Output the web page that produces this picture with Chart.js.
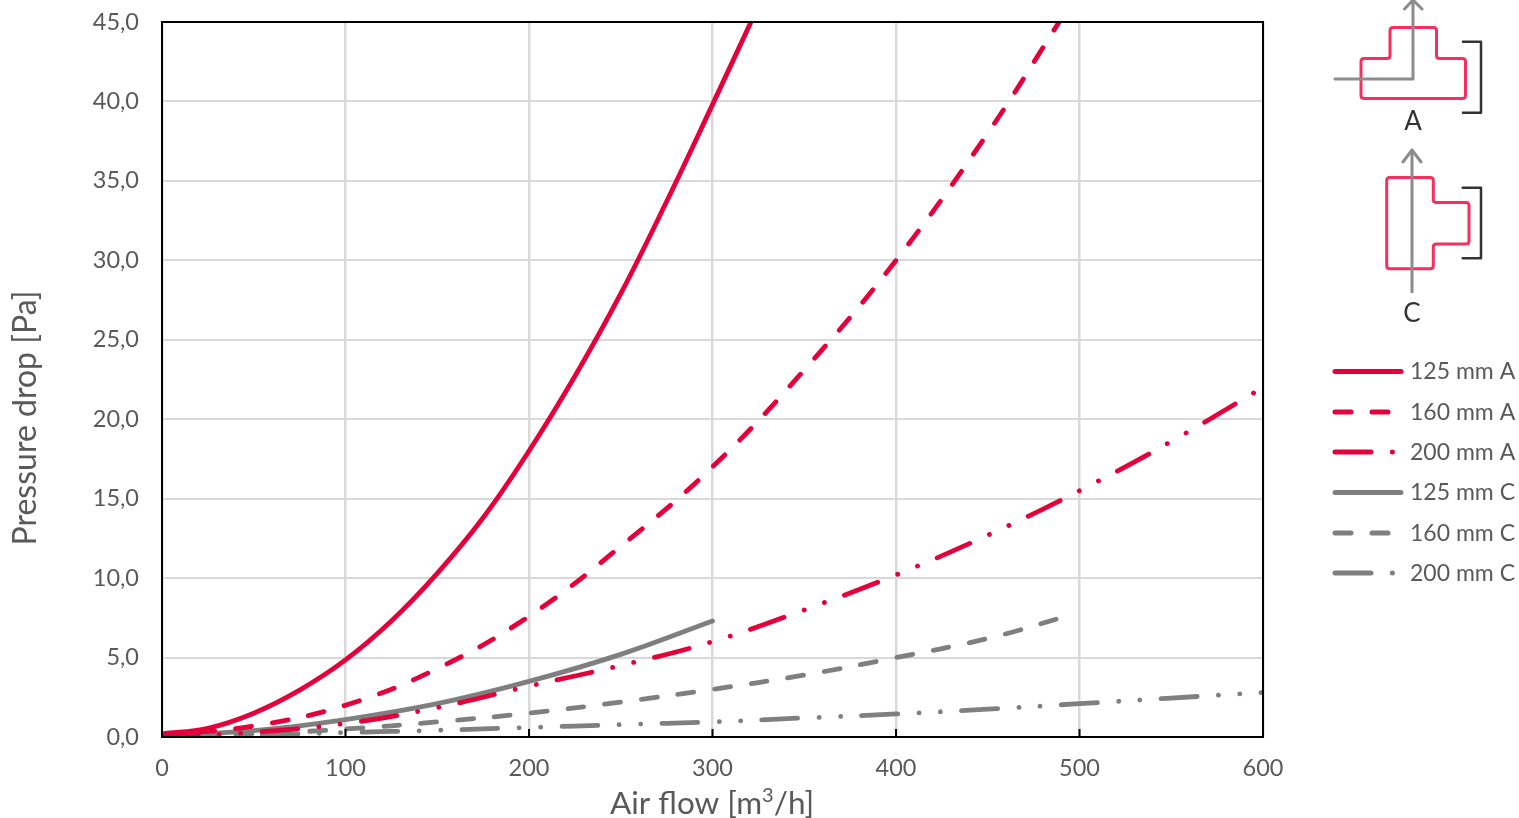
<!DOCTYPE html>
<html>
<head>
<meta charset="utf-8">
<title>Pressure drop</title>
<script src="https://cdn.jsdelivr.net/npm/chart.js@4"></script>
<style>
  html, body { margin: 0; padding: 0; background: #fff; overflow: hidden; }
  #wrap { position: relative; width: 1519px; height: 818px; }
  #chart { position: absolute; left: 0; top: 0; }
  #icons { position: absolute; left: 0; top: 0; pointer-events: none; }
</style>
</head>
<body>
<div id="wrap">
  <canvas id="chart" width="1519" height="818"></canvas>
  <svg id="icons" width="1519" height="818" fill="none" stroke-linejoin="round" stroke-linecap="round">
    <path id="ductA" stroke="#f5305f" stroke-width="3"/>
    <path d="M1335 79H1413V0M1404.5 9L1413 0L1422 9" stroke="#8c8c8c" stroke-width="3"/>
    <path d="M1463 41.7H1481V112.7H1463" stroke="#333" stroke-width="2.5"/>
    <text x="1413" y="130" text-anchor="middle" font-family="Lato" font-size="26" fill="#333">A</text>
    <path id="ductC" stroke="#f5305f" stroke-width="3"/>
    <path d="M1412 291.7V150M1403 162L1412 150L1421 162" stroke="#8c8c8c" stroke-width="3"/>
    <path d="M1462.7 187.7H1481V258.3H1462.7" stroke="#333" stroke-width="2.5"/>
    <text x="1412" y="322" text-anchor="middle" font-family="Lato" font-size="26" fill="#333">C</text>
  </svg>
</div>
<script>
// Значения
const flowA125 = [0, 25, 50, 75, 100, 125, 150, 175, 200, 225, 250, 275, 300, 325];
const dropA125 = [0.2, 0.55, 1.5, 2.95, 4.85, 7.3, 10.3, 13.8, 18, 22.7, 27.9, 33.7, 39.8, 46];
const flowA160 = [0, 50, 100, 150, 200, 250, 300, 350, 400, 450, 490];
const dropA160 = [0.1, 0.7, 2.0, 4.3, 7.6, 12, 17, 23.1, 30, 38, 45.2];
const flowA200 = [0, 50, 100, 150, 200, 250, 300, 350, 400, 450, 500, 550, 600];
const dropA200 = [0, 0.3, 0.85, 1.85, 3.2, 4.5, 6, 8, 10.2, 12.7, 15.5, 18.6, 22];
const flowC125 = [0, 50, 100, 150, 200, 250, 300];
const dropC125 = [0.1, 0.4, 1.1, 2.1, 3.5, 5.2, 7.3];
const flowC160 = [0, 50, 100, 150, 200, 250, 300, 350, 400, 450, 490];
const dropC160 = [0.05, 0.2, 0.5, 0.95, 1.5, 2.2, 3, 3.9, 5, 6.2, 7.5];
const flowC200 = [0, 50, 100, 150, 200, 250, 300, 350, 400, 450, 500, 550, 600];
const dropC200 = [0.05, 0.12, 0.28, 0.42, 0.6, 0.78, 0.95, 1.2, 1.45, 1.75, 2.1, 2.45, 2.8];

const RED = "#e4003a";
const GRAY = "#7f7f7f";
const TEXT = "#595959";
const DASH = [16, 21];
const DASH_DOT_DOT = [36, 21.3, 0.1, 21.3, 0.1, 21.2];

// Контур воздуховода со скруглёнными углами
function roundedPath(points, r) {
  const n = points.length;
  let d = "";
  points.forEach((p, i) => {
    const prev = points[(i + n - 1) % n];
    const next = points[(i + 1) % n];
    const a = [p[0] + Math.sign(prev[0] - p[0]) * r, p[1] + Math.sign(prev[1] - p[1]) * r];
    const b = [p[0] + Math.sign(next[0] - p[0]) * r, p[1] + Math.sign(next[1] - p[1]) * r];
    d += `${i ? "L" : "M"}${a[0]} ${a[1]}Q${p[0]} ${p[1]} ${b[0]} ${b[1]}`;
  });
  return d + "Z";
}

document.getElementById("ductA").setAttribute("d", roundedPath([
  [1390, 27.5], [1436.5, 27.5], [1436.5, 58.5], [1465.5, 58.5],
  [1465.5, 98.5], [1361, 98.5], [1361, 58.5], [1390, 58.5],
], 3));
document.getElementById("ductC").setAttribute("d", roundedPath([
  [1386.7, 177.5], [1433.3, 177.5], [1433.3, 202.5], [1469, 202.5],
  [1469, 244], [1433.3, 244], [1433.3, 268.7], [1386.7, 268.7],
], 3));

function makeSeries(label, xs, ys, color, dash) {
  return {
    label,
    data: xs.map((x, i) => ({ x, y: ys[i] })),
    borderColor: color,
    backgroundColor: color,
    borderWidth: 4.8,
    borderDash: dash,
    borderCapStyle: "round",
    borderJoinStyle: "round",
    pointRadius: 0,
    showLine: true,
    fill: false,
    tension: 0.4,
  };
}

// Легенда справа
const sideLegend = {
  id: "sideLegend",
  afterDraw(chart) {
    const ctx = chart.ctx;
    const rows = [372, 412.5, 452.5, 493, 533.5, 573.5];
    chart.data.datasets.forEach((ds, i) => {
      ctx.save();
      ctx.strokeStyle = ds.borderColor;
      ctx.lineWidth = 5;
      ctx.lineCap = "round";
      ctx.setLineDash(ds.borderDash);
      ctx.beginPath();
      ctx.moveTo(1335, rows[i] - 0.5);
      ctx.lineTo(1401, rows[i] - 0.5);
      ctx.stroke();
      ctx.restore();

      ctx.fillStyle = TEXT;
      ctx.font = "23px Lato";
      ctx.textBaseline = "middle";
      ctx.textAlign = "left";
      ctx.fillText(ds.label, 1410, rows[i]);
    });
  },
};

// Подписи осей: степень в "m3/h" нужна настоящая, надстрочная
const axisTitles = {
  id: "axisTitles",
  afterDraw(chart) {
    const ctx = chart.ctx;
    ctx.save();
    ctx.fillStyle = TEXT;
    ctx.textBaseline = "alphabetic";
    ctx.textAlign = "left";

    const parts = [
      { text: "Air flow [m", font: "31.5px Lato", dy: 0 },
      { text: "3", font: "20px Lato", dy: -12 },
      { text: "/h]", font: "31.5px Lato", dy: 0 },
    ];
    let x = 610;
    parts.forEach((part) => {
      ctx.font = part.font;
      ctx.fillText(part.text, x, 814 + part.dy);
      x += ctx.measureText(part.text).width;
    });

    ctx.translate(36, 418);
    ctx.rotate(-Math.PI / 2);
    ctx.textAlign = "center";
    ctx.font = "32px Lato";
    ctx.fillText("Pressure drop [Pa]", 0, 0);
    ctx.restore();
  },
};

// Чёрная рамка и короткие внутренние засечки оси X поверх линий
const plotFrame = {
  id: "plotFrame",
  afterDatasetsDraw(chart) {
    const { left, right, top, bottom } = chart.chartArea;
    const ctx = chart.ctx;
    const xScale = chart.scales.x;
    ctx.save();
    ctx.strokeStyle = "#000";
    ctx.lineWidth = 2;
    ctx.strokeRect(left, top, right - left, bottom - top);
    ctx.beginPath();
    xScale.ticks.forEach((tick, i) => {
      const px = xScale.getPixelForTick(i);
      ctx.moveTo(px, bottom);
      ctx.lineTo(px, bottom - 8);
    });
    ctx.stroke();
    ctx.restore();
  },
};

new Chart(document.getElementById("chart"), {
  type: "scatter",
  data: {
    datasets: [
      makeSeries("125 mm A", flowA125, dropA125, RED, []),
      makeSeries("160 mm A", flowA160, dropA160, RED, DASH),
      makeSeries("200 mm A", flowA200, dropA200, RED, DASH_DOT_DOT),
      makeSeries("125 mm C", flowC125, dropC125, GRAY, []),
      makeSeries("160 mm C", flowC160, dropC160, GRAY, DASH),
      makeSeries("200 mm C", flowC200, dropC200, GRAY, DASH_DOT_DOT),
    ],
  },
  options: {
    responsive: false,
    animation: false,
    devicePixelRatio: 1,
    layout: { padding: { top: 22, right: 256, left: 8, bottom: 0 } },
    plugins: { legend: { display: false }, tooltip: { enabled: false } },
    scales: {
      x: {
        type: "linear",
        min: 0,
        max: 600,
        afterFit(axis) {
          axis.height = 81;
          axis.paddingLeft = 0;
          axis.paddingRight = 0;
        },
        grid: { color: "#d9d9d9", lineWidth: 2.5, drawTicks: false },
        border: { display: false },
        ticks: { stepSize: 100, color: TEXT, font: { family: "Lato", size: 23.5 }, padding: 17, maxRotation: 0 },
      },
      y: {
        min: 0,
        max: 45,
        afterFit(axis) {
          axis.width = 154;
          axis.paddingTop = 0;
          axis.paddingBottom = 0;
        },
        grid: { color: "#d9d9d9", lineWidth: 2, drawTicks: false },
        border: { display: false },
        ticks: {
          stepSize: 5,
          color: TEXT,
          font: { family: "Lato", size: 23.5 },
          padding: 23,
          callback: (v) => v.toFixed(1).replace(".", ","),
        },
      },
    },
  },
  plugins: [plotFrame, sideLegend, axisTitles],
});
</script>
</body>
</html>
